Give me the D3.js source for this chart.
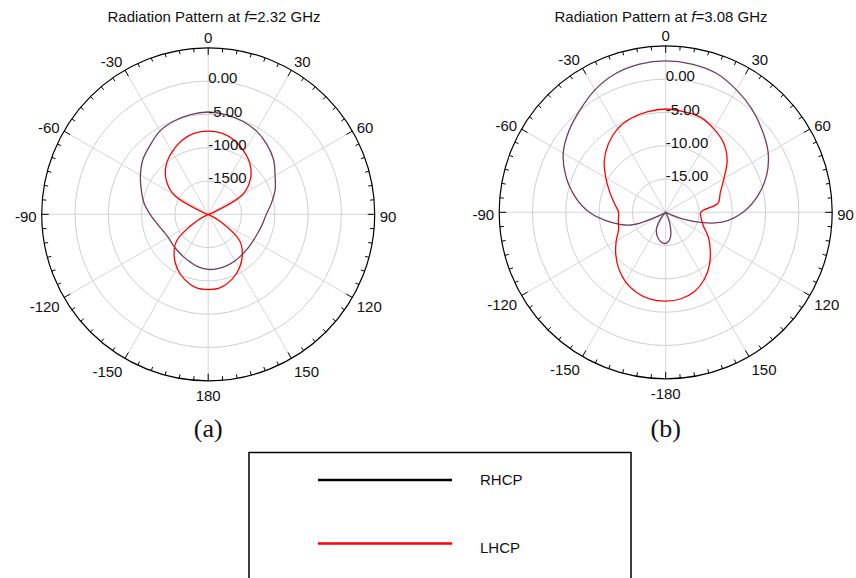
<!DOCTYPE html>
<html>
<head>
<meta charset="utf-8">
<script src="https://cdn.jsdelivr.net/npm/d3@7"></script>
<style>
  body { margin: 0; background: #fff; }
  text { font-family: "Liberation Sans", Arial, sans-serif; fill: #111; }
</style>
</head>
<body>
<div id="chart"></div>
<script>
// angle samples (deg), 0 = top, clockwise positive
let angles = [-180, -170, -160, -150, -140, -130, -120, -110, -100, -90, -80, -70, -60, -50, -40, -30, -20, -10,
  0, 10, 20, 30, 40, 50, 60, 70, 80, 90, 100, 110, 120, 130, 140, 150, 160, 170];

// f = 2.32 GHz, dB
let rhcp_a = [-11.72, -11.94, -12.32, -12.62, -12.85, -13.00, -13.07, -12.77, -12.17, -11.27, -10.21, -9.31, -8.25, -7.20, -6.45, -5.54, -5.09, -4.79,
  -4.64, -4.79, -5.09, -5.54, -6.30, -7.20, -8.40, -9.31, -10.36, -11.27, -11.72, -12.02, -12.17, -12.17, -12.09, -11.94, -11.79, -11.72];
let lhcp_a = [-8.71, -8.86, -9.61, -10.66, -12.02, -13.83, -18.19, -25, -25, -25, -25, -19.25, -13.98, -11.72, -10.21, -9.16, -8.25, -7.65,
  -7.50, -7.65, -8.25, -9.16, -10.21, -11.72, -13.98, -19.25, -25, -25, -25, -25, -18.19, -13.83, -12.02, -10.66, -9.61, -8.86];

// f = 3.08 GHz, dB
let rhcp_b = [-15.33, -15.56, -16.23, -17.29, -19.10, -25, -19.55, -14.43, -11.57, -8.55, -6.14, -4.04, -2.23, -1.02, 0.03, 1.23, 2.14, 2.59,
  2.74, 2.59, 2.21, 1.23, 0.18, -1.02, -2.23, -3.89, -5.99, -8.40, -11.42, -16.69, -25, -25, -25, -25, -18.19, -16.08];
let lhcp_b = [-6.67, -6.75, -7.20, -7.95, -9.01, -10.21, -11.42, -12.47, -12.77, -12.92, -12.17, -11.04, -9.61, -7.95, -6.60, -5.54, -4.94, -4.64,
  -4.49, -4.64, -4.79, -5.54, -6.45, -7.95, -9.91, -11.27, -12.02, -14.73, -14.58, -13.98, -12.62, -11.27, -9.76, -8.40, -7.35, -6.82];

// axis labels
let angle_ticks = [0, 30, 60, 90, 120, 150, 180, -150, -120, -90, -60, -30];
let angle_labels_a = ["0", "30", "60", "90", "120", "150", "180", "-150", "-120", "-90", "-60", "-30"];
let angle_labels_b = ["0", "30", "60", "90", "120", "150", "-180", "-150", "-120", "-90", "-60", "-30"];
let ring_values = [0, -5, -10, -15];
let ring_labels_a = ["0.00", "-5.00", "-1000", "-1500"];
let ring_labels_b = ["0.00", "-5.00", "-10.00", "-15.00"];
let series_names = ["RHCP", "LHCP"];

let rhcp_color = "#6f3d60";
let lhcp_color = "#ff0000";

let width = 856,
  height = 578,
  R = 166.5;

let svg = d3.select("#chart").append("svg")
  .attr("width", width)
  .attr("height", height);

svg.append("rect").attr("width", width).attr("height", height).attr("fill", "#fff");

let rScale = d3.scaleLinear().domain([-20, 5]).range([0, R]).clamp(true);

function drawPolar(cx, cy, freq, titleX, rhcp, lhcp, angleLabels, ringLabels, caption) {
  let g = svg.append("g").attr("transform", "translate(" + cx + "," + cy + ")");

  // rings
  g.selectAll(".ring").data(ring_values).enter().append("circle")
    .attr("r", d => rScale(d))
    .attr("fill", "none")
    .attr("stroke", "#cfcfcf")
    .attr("stroke-width", 1);

  // spokes every 30 deg
  g.selectAll(".spoke").data(angle_ticks).enter().append("line")
    .attr("x1", 0).attr("y1", 0)
    .attr("x2", d => R * Math.sin(d * Math.PI / 180))
    .attr("y2", d => -R * Math.cos(d * Math.PI / 180))
    .attr("stroke", "#d6d6d6")
    .attr("stroke-width", 1);

  // outer circle + ticks
  g.append("circle").attr("r", R).attr("fill", "none").attr("stroke", "#000").attr("stroke-width", 1.2);
  let ticks = d3.range(0, 360, 5);
  g.selectAll(".tick").data(ticks).enter().append("line")
    .attr("x1", d => R * Math.sin(d * Math.PI / 180))
    .attr("y1", d => -R * Math.cos(d * Math.PI / 180))
    .attr("x2", d => (R - (d % 30 === 0 ? 7 : 4)) * Math.sin(d * Math.PI / 180))
    .attr("y2", d => -(R - (d % 30 === 0 ? 7 : 4)) * Math.cos(d * Math.PI / 180))
    .attr("stroke", "#000")
    .attr("stroke-width", 1);

  // pattern curves
  let line = d3.lineRadial()
    .angle((d, i) => angles[i] * Math.PI / 180)
    .radius(d => rScale(d))
    .curve(d3.curveCatmullRomClosed.alpha(0.5));

  g.append("path").attr("d", line(rhcp)).attr("fill", "none").attr("stroke", rhcp_color).attr("stroke-width", 1.3);
  g.append("path").attr("d", line(lhcp)).attr("fill", "none").attr("stroke", lhcp_color).attr("stroke-width", 1.3);

  // ring labels
  g.selectAll(".rlab").data(ring_values).enter().append("text")
    .attr("x", 0)
    .attr("y", d => -rScale(d) - 3)
    .attr("dy", "0.35em")
    .attr("font-size", 15)
    .text((d, i) => ringLabels[i]);

  // angle labels
  g.selectAll(".alab").data(angle_ticks).enter().append("text")
    .attr("x", d => (R + 5) * Math.sin(d * Math.PI / 180))
    .attr("y", d => -(R + 5) * Math.cos(d * Math.PI / 180) - 7.5 * Math.cos(d * Math.PI / 180) + 2.5)
    .attr("dy", "0.35em")
    .attr("font-size", 15)
    .attr("text-anchor", d => {
      let s = Math.sin(d * Math.PI / 180);
      return s > 0.01 ? "start" : (s < -0.01 ? "end" : "middle");
    })
    .text((d, i) => angleLabels[i]);

  // title
  let t = svg.append("text")
    .attr("x", titleX).attr("y", 22)
    .attr("text-anchor", "middle")
    .attr("font-size", 15);
  t.append("tspan").text("Radiation Pattern at ");
  t.append("tspan").attr("font-style", "italic").text("f");
  t.append("tspan").text("=" + freq + " GHz");

  svg.append("text")
    .attr("x", cx).attr("y", 437)
    .attr("text-anchor", "middle")
    .attr("font-size", 26)
    .style("font-family", "'Liberation Serif', 'Times New Roman', serif")
    .text(caption);
}

drawPolar(208.2, 214.3, "2.32", 214, rhcp_a, lhcp_a, angle_labels_a, ring_labels_a, "(a)");
drawPolar(665.7, 212.3, "3.08", 661, rhcp_b, lhcp_b, angle_labels_b, ring_labels_b, "(b)");

// legend
let legend = svg.append("g");
legend.append("rect")
  .attr("x", 249).attr("y", 452.5)
  .attr("width", 382).attr("height", 160)
  .attr("fill", "#fff").attr("stroke", "#000").attr("stroke-width", 1.5);

let legend_colors = ["#000", lhcp_color];
let legend_y = [480, 543.5];
series_names.forEach((name, i) => {
  legend.append("line")
    .attr("x1", 318).attr("x2", 452)
    .attr("y1", legend_y[i]).attr("y2", legend_y[i])
    .attr("stroke", legend_colors[i]).attr("stroke-width", 2.5);
  legend.append("text")
    .attr("x", 480).attr("y", legend_y[i] + (i === 1 ? 4 : 0))
    .attr("dy", "0.35em")
    .attr("font-size", 15)
    .text(name);
});
</script>
</body>
</html>
